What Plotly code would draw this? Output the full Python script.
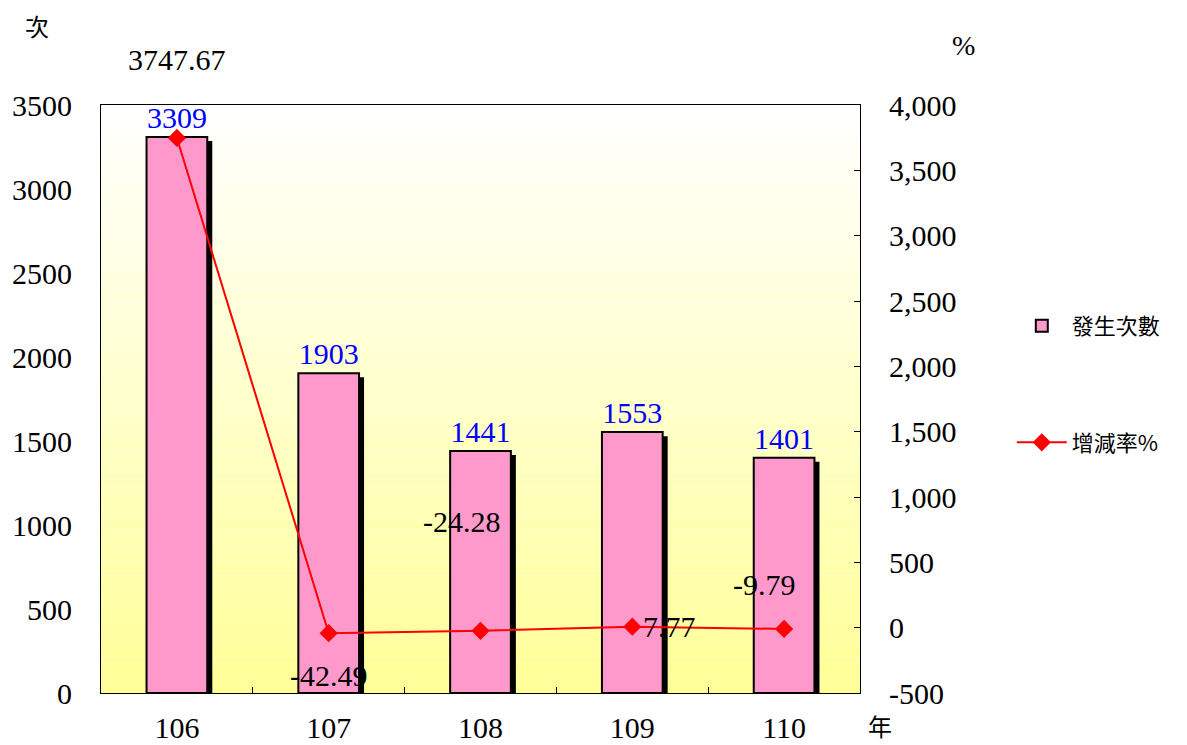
import plotly.graph_objects as go

years = ["106", "107", "108", "109", "110"]
counts = [3309, 1903, 1441, 1553, 1401]
rates = [3747.67, -42.49, -24.28, 7.77, -9.79]
rate_labels = ["3747.67", "-42.49", "-24.28", "7.77", "-9.79"]
left_ticks = [0, 500, 1000, 1500, 2000, 2500, 3000, 3500]
right_ticks = [-500, 0, 500, 1000, 1500, 2000, 2500, 3000, 3500, 4000]
right_tick_labels = ["-500", "0", "500", "1,000", "1,500", "2,000", "2,500",
                     "3,000", "3,500", "4,000"]
# label offsets (pixels) relative to each rate marker
label_dx = [0, 0, -19, 37, -20]
label_dy = [78, -42, 109, 0, 44]

serif = "Liberation Serif, Times New Roman, serif"
cjk = "Noto Sans CJK TC, Noto Sans CJK SC, sans-serif"

fig = go.Figure()

# bar shadows
fig.add_trace(go.Bar(
    x=years, y=[c - 24 for c in counts], width=0.4, offset=-0.167,
    marker=dict(color="black", line=dict(width=0)),
    showlegend=False, hoverinfo="skip", legendgroup="s"))

fig.add_trace(go.Bar(
    x=years, y=counts, width=0.4, offset=-0.2, name="發生次數",
    marker=dict(color="#FF99CC", line=dict(color="black", width=2)),
    text=[str(c) for c in counts], textposition="outside",
    textfont=dict(family=serif, size=30, color="#0000FF"),
    cliponaxis=False, legendgroup="a"))

fig.add_trace(go.Scatter(
    x=years, y=rates, yaxis="y2", name="增減率%", mode="lines+markers",
    line=dict(color="#FF0000", width=2),
    marker=dict(symbol="diamond", size=14, color="#FF0000"),
    cliponaxis=False, legendgroup="b"))

annotations = []
for i in range(5):
    # category axis: position annotations by category index
    annotations.append(dict(x=i, y=rates[i], xref="x", yref="y2",
                            text=rate_labels[i], showarrow=False,
                            xanchor="center", yanchor="middle",
                            xshift=label_dx[i], yshift=label_dy[i],
                            font=dict(family=serif, size=30, color="black")))

# plot area in screenshot pixels: x 101..860, y 105..693
def px_to_paper(px, py):
    return (px - 101) / 759, (693 - py) / 588

for txt, px, py, fam, sz in [("次", 37, 25, cjk, 24), ("%", 963, 45, serif, 28),
                             ("年", 880, 725, cjk, 24)]:
    xx, yy = px_to_paper(px, py)
    annotations.append(dict(text=txt, x=xx, y=yy, xref="paper", yref="paper",
                            xanchor="center", yanchor="middle", showarrow=False,
                            font=dict(family=fam, size=sz, color="black")))

# gradient background
n = 80
shapes = []
for k in range(n):
    t = k / (n - 1)  # 0 bottom -> 1 top
    b = int(round(150 + (255 - 150) * t))
    shapes.append(dict(type="rect", xref="paper", yref="paper",
                       x0=0, x1=1, y0=k / n, y1=(k + 1) / n,
                       fillcolor=f"rgb(255,255,{b})", line=dict(width=0),
                       layer="below"))

# page body has an 8px margin; compensate so plot area lands at 101..860 x 105..693
fig.update_layout(
    width=1187, height=745,
    margin=dict(l=93, r=335, t=97, b=60, autoexpand=False),
    paper_bgcolor="white", plot_bgcolor="white",
    barmode="overlay", shapes=shapes, annotations=annotations,
    font=dict(family=serif, size=30, color="black"),
    xaxis=dict(type="category", range=[-0.5, 4.5], showgrid=False,
               showline=True, linecolor="black", linewidth=1, mirror=True,
               ticks="inside", ticklen=6, tickson="boundaries", tickcolor="black",
               ticklabelstandoff=8, automargin=False,
               tickfont=dict(family=serif, size=30)),
    yaxis=dict(range=[0, 3500], tickvals=left_ticks, showgrid=False,
               showline=True, linecolor="black", linewidth=1, mirror=True,
               ticks="", ticklabelstandoff=22, automargin=False,
               tickfont=dict(family=serif, size=30), zeroline=False),
    yaxis2=dict(range=[-500, 4000], tickvals=right_ticks,
                ticktext=right_tick_labels, overlaying="y", side="right",
                showgrid=False, zeroline=False,
                ticks="inside", ticklen=6, tickcolor="black",
                ticklabelstandoff=28, automargin=False,
                tickfont=dict(family=serif, size=30)),
    legend=dict(x=1.2, y=0.66, xanchor="left", yanchor="top",
                font=dict(family=cjk, size=22, color="black"),
                itemwidth=50,
                tracegroupgap=85, traceorder="grouped", bgcolor="rgba(0,0,0,0)"),
)

fig.write_html("out.html")
